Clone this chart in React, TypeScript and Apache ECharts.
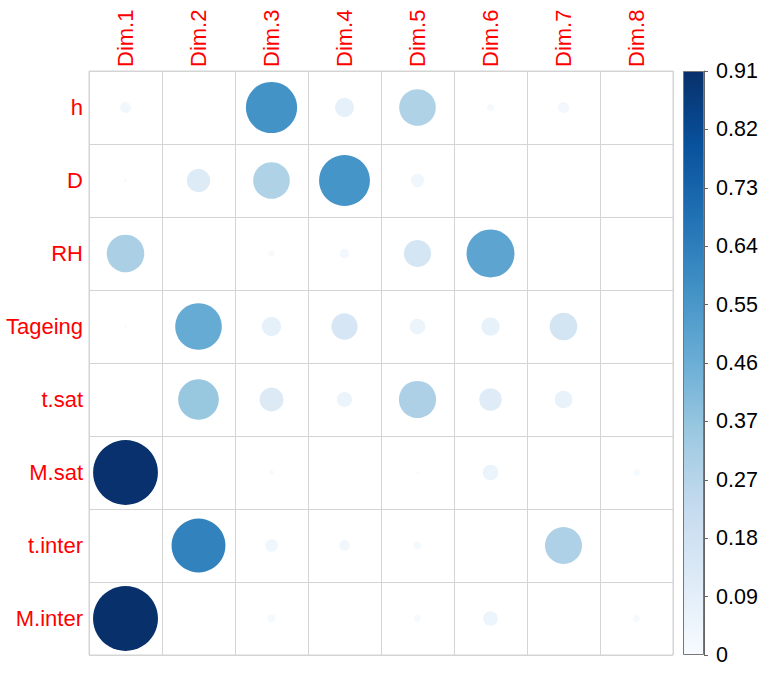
import React, { useEffect, useRef } from "react";
import * as echarts from "echarts";

const dims = ["Dim.1", "Dim.2", "Dim.3", "Dim.4", "Dim.5", "Dim.6", "Dim.7", "Dim.8"];
const variables = ["h", "D", "RH", "Tageing", "t.sat", "M.sat", "t.inter", "M.inter"];

// values per variable across Dim.1..Dim.8
const hVals = [0.026, 0, 0.567, 0.078, 0.29, 0.011, 0.026, 0];
const dVals = [0.003, 0.117, 0.29, 0.56, 0.038, 0, 0, 0];
const rhVals = [0.305, 0, 0.008, 0.02, 0.16, 0.496, 0.001, 0];
const tageingVals = [0.002, 0.47, 0.08, 0.15, 0.053, 0.072, 0.165, 0];
const tsatVals = [0, 0.357, 0.124, 0.05, 0.3, 0.11, 0.067, 0];
const msatVals = [0.91, 0, 0.005, 0, 0.002, 0.053, 0, 0.01];
const tinterVals = [0, 0.628, 0.035, 0.025, 0.014, 0, 0.296, 0];
const minterVals = [0.912, 0.001, 0.014, 0, 0.01, 0.046, 0, 0.01];

const rows = [hVals, dVals, rhVals, tageingVals, tsatVals, msatVals, tinterVals, minterVals];

const colorMax = 0.914;
const colorTickLabels = ["0", "0.09", "0.18", "0.27", "0.37", "0.46", "0.55", "0.64", "0.73", "0.82", "0.91"];

const blues = ["#F7FBFF", "#DEEBF7", "#C6DBEF", "#9ECAE1", "#6BAED6", "#4292C6", "#2171B5", "#08519C", "#08306B"];

export default function App() {
  const ref = useRef<HTMLDivElement>(null);
  useEffect(() => {
    if (!ref.current) return;
    const chart = echarts.init(ref.current, null, { renderer: "svg" });
    const data: number[][] = [];
    rows.forEach((r, yi) => r.forEach((v, xi) => data.push([xi, yi, v])));
    const n = blues.length;
    const stops = blues
      .map((c, i) => ({ offset: 1 - i / (n - 1), color: c }))
      .reverse();
    const font = "'Liberation Sans', Arial, sans-serif";
    chart.setOption({
      animation: false,
      backgroundColor: "#ffffff",
      grid: [
        { left: 89, top: 71, width: 584, height: 584, show: true, borderColor: "#d4d4d4", borderWidth: 1, backgroundColor: "transparent" },
        { left: 683, top: 71, width: 21, height: 584 },
      ],
      xAxis: [
        {
          gridIndex: 0,
          type: "category",
          data: dims,
          position: "top",
          axisLine: { show: false },
          axisTick: { show: false },
          splitLine: { show: true, interval: 0, lineStyle: { color: "#d4d4d4", width: 1 } },
          axisLabel: { rotate: -90, color: "#ff0000", fontSize: 22, fontFamily: font, margin: 4, interval: 0 },
        },
        { gridIndex: 1, type: "category", data: [""], show: false },
      ],
      yAxis: [
        {
          gridIndex: 0,
          type: "category",
          data: variables,
          inverse: true,
          axisLine: { show: false },
          axisTick: { show: false },
          splitLine: { show: true, interval: 0, lineStyle: { color: "#d4d4d4", width: 1 } },
          axisLabel: { color: "#ff0000", fontSize: 22, fontFamily: font, margin: 6, interval: 0 },
        },
        {
          gridIndex: 1,
          type: "value",
          min: 0,
          max: colorMax,
          interval: colorMax / 10,
          position: "right",
          axisLine: { show: true, lineStyle: { color: "#666" } },
          axisTick: { show: true, length: 4, lineStyle: { color: "#666" } },
          splitLine: { show: false },
          axisLabel: {
            color: "#000",
            fontSize: 21.5,
            fontFamily: font,
            margin: 12,
            formatter: (_v: number, idx: number) => colorTickLabels[idx] ?? "",
          },
        },
      ],
      visualMap: {
        show: false,
        type: "continuous",
        min: 0,
        max: colorMax,
        dimension: 2,
        seriesIndex: 0,
        inRange: { color: blues },
      },
      series: [
        {
          type: "scatter",
          xAxisIndex: 0,
          yAxisIndex: 0,
          data,
          symbol: "circle",
          symbolSize: (val: number[]) => 65 * Math.sqrt(Math.max(val[2], 0) / colorMax),
          itemStyle: { opacity: 1 },
          silent: true,
        },
        {
          type: "bar",
          xAxisIndex: 1,
          yAxisIndex: 1,
          data: [colorMax],
          barWidth: "100%",
          silent: true,
          itemStyle: {
            color: new echarts.graphic.LinearGradient(0, 0, 0, 1, stops),
            borderColor: "#777",
            borderWidth: 1,
          },
        },
      ],
    });
    return () => chart.dispose();
  }, []);
  return <div ref={ref} style={{ position: "fixed", left: 0, top: 0, width: 776, height: 675 }} />;
}
